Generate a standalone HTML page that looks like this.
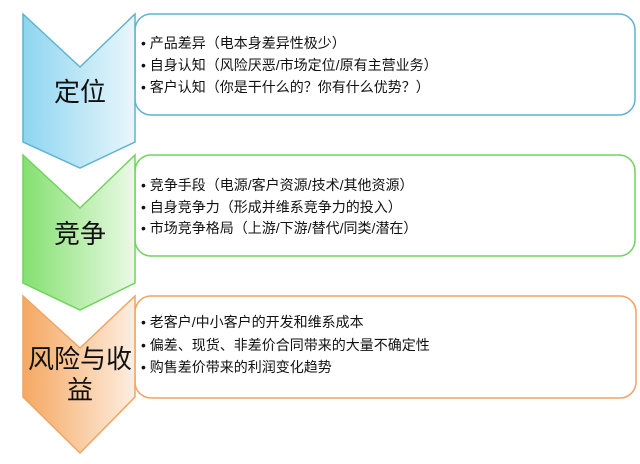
<!DOCTYPE html>
<html><head><meta charset="utf-8"><style>
body{margin:0;background:#fff;}
svg text{font-family:"Liberation Sans","Noto Sans CJK SC",sans-serif;}
</style></head><body>
<svg width="640" height="459" viewBox="0 0 640 459" xmlns="http://www.w3.org/2000/svg">
<defs>
<linearGradient id="gb" x1="0" x2="1" y1="0" y2="0"><stop offset="0" stop-color="#8ed5f0"/><stop offset="1" stop-color="#e9f7fc"/></linearGradient>
<linearGradient id="gg" x1="0" x2="1" y1="0" y2="0"><stop offset="0" stop-color="#84e070"/><stop offset="1" stop-color="#ebfae6"/></linearGradient>
<linearGradient id="go" x1="0" x2="1" y1="0" y2="0"><stop offset="0" stop-color="#f5a862"/><stop offset="1" stop-color="#fdeee0"/></linearGradient>
</defs>
<g font-size="14" fill="#111">
<rect x="135" y="14" width="500" height="101" rx="16" fill="#fff" stroke="#5fb3cf" stroke-width="1.5"/>
<polygon points="23,14 80,67 135,14 135,142 80,168 23,142" fill="url(#gb)" stroke="#5fb3cf" stroke-width="1.5"/>
<text x="80" y="101" font-size="26" text-anchor="middle">定位</text>
<text x="141" y="48">• 产品差异（电本身差异性极少）</text>
<text x="141" y="70">• 自身认知（风险厌恶/市场定位/原有主营业务）</text>
<text x="141" y="92">• 客户认知（你是干什么的？你有什么优势？）</text>

<rect x="135" y="155" width="500" height="101" rx="16" fill="#fff" stroke="#72d25e" stroke-width="1.5"/>
<polygon points="23,155 80,208 135,155 135,283 80,310 23,283" fill="url(#gg)" stroke="#72d25e" stroke-width="1.5"/>
<text x="80" y="243" font-size="26" text-anchor="middle">竞争</text>
<text x="141" y="190">• 竞争手段（电源/客户资源/技术/其他资源）</text>
<text x="141" y="212">• 自身竞争力（形成并维系竞争力的投入）</text>
<text x="141" y="233">• 市场竞争格局（上游/下游/替代/同类/潜在）</text>

<rect x="135" y="296" width="501" height="102" rx="16" fill="#fff" stroke="#f0a463" stroke-width="1.5"/>
<polygon points="23,296 80,348 135,296 135,397 80,453 23,397" fill="url(#go)" stroke="#f0a463" stroke-width="1.5"/>
<text x="80" y="368" font-size="26" text-anchor="middle">风险与收</text>
<text x="80" y="399" font-size="26" text-anchor="middle">益</text>
<text x="141" y="327">• 老客户/中小客户的开发和维系成本</text>
<text x="141" y="350">• 偏差、现货、非差价合同带来的大量不确定性</text>
<text x="141" y="372">• 购售差价带来的利润变化趋势</text>
</g>
</svg>
</body></html>
